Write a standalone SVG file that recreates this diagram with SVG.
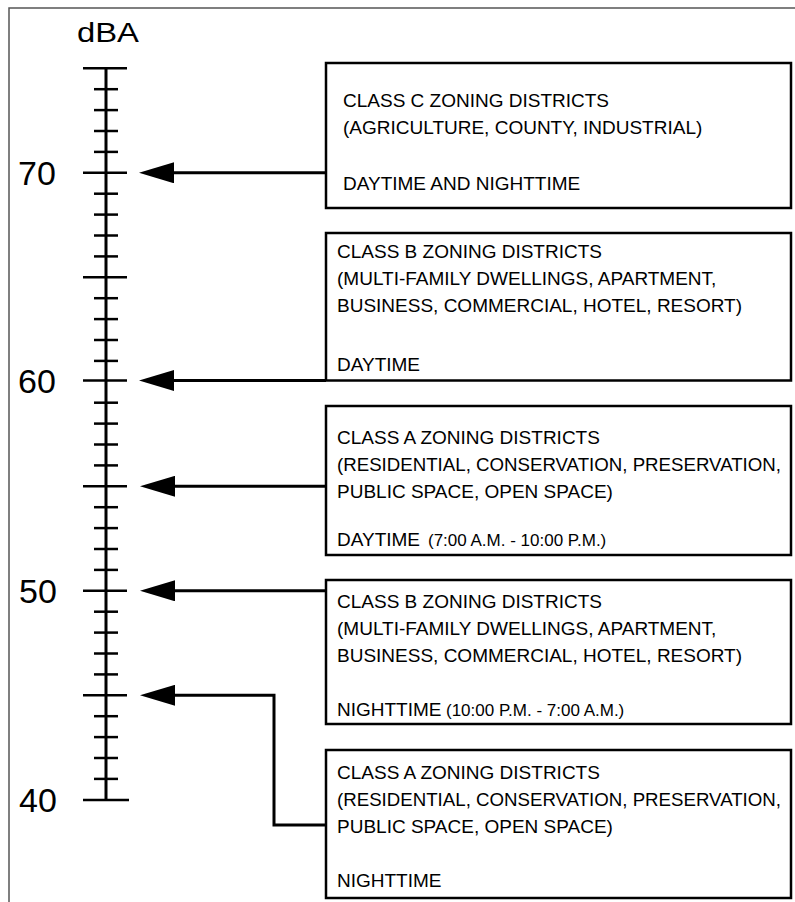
<svg xmlns="http://www.w3.org/2000/svg" width="795" height="902" viewBox="0 0 795 902">
<style>
.frame{fill:none;stroke:#555;stroke-width:1.5}
.axis{stroke:#000;stroke-width:3;fill:none}
.minor{stroke:#000;stroke-width:2.5}
.major{stroke:#000;stroke-width:2.5}
.box{fill:#fff;stroke:#000;stroke-width:2.5}
.conn{fill:none;stroke:#000;stroke-width:3}
.t{font-family:"Liberation Sans",Arial,sans-serif;font-size:19px;fill:#000}
.ts{font-family:"Liberation Sans",Arial,sans-serif;font-size:17px;fill:#000}
.num{font-family:"Liberation Sans",Arial,sans-serif;font-size:34px;fill:#000}
.unit{font-family:"Liberation Sans",Arial,sans-serif;font-size:27px;fill:#000}
</style>
<defs>
<marker id="ah" viewBox="0 0 35 21" refX="9" refY="10.5" markerWidth="35" markerHeight="21" markerUnits="userSpaceOnUse" orient="auto">
<polygon points="0,0 35,10.5 0,21" fill="#000"/>
</marker>
</defs>
<rect width="795" height="902" fill="#fff"/>
<path class="frame" d="M9,902 V8 H795"/>
<g id="scale">
<text class="unit" x="108" y="42" text-anchor="middle" textLength="62" lengthAdjust="spacingAndGlyphs">dBA</text>
<line class="axis" x1="106" y1="68" x2="106" y2="800"/>
<g class="ticks">
<line class="major" x1="83" y1="68.3" x2="127" y2="68.3"/>
<line class="minor" x1="94" y1="89.2" x2="118" y2="89.2"/>
<line class="minor" x1="94" y1="110.1" x2="118" y2="110.1"/>
<line class="minor" x1="94" y1="131.0" x2="118" y2="131.0"/>
<line class="minor" x1="94" y1="151.9" x2="118" y2="151.9"/>
<line class="major" x1="83" y1="172.8" x2="127" y2="172.8"/>
<line class="minor" x1="94" y1="193.7" x2="118" y2="193.7"/>
<line class="minor" x1="94" y1="214.6" x2="118" y2="214.6"/>
<line class="minor" x1="94" y1="235.5" x2="118" y2="235.5"/>
<line class="minor" x1="94" y1="256.4" x2="118" y2="256.4"/>
<line class="major" x1="83" y1="277.3" x2="127" y2="277.3"/>
<line class="minor" x1="94" y1="298.2" x2="118" y2="298.2"/>
<line class="minor" x1="94" y1="319.1" x2="118" y2="319.1"/>
<line class="minor" x1="94" y1="340.0" x2="118" y2="340.0"/>
<line class="minor" x1="94" y1="360.9" x2="118" y2="360.9"/>
<line class="major" x1="83" y1="380.5" x2="127" y2="380.5"/>
<line class="minor" x1="94" y1="402.7" x2="118" y2="402.7"/>
<line class="minor" x1="94" y1="423.6" x2="118" y2="423.6"/>
<line class="minor" x1="94" y1="444.5" x2="118" y2="444.5"/>
<line class="minor" x1="94" y1="465.4" x2="118" y2="465.4"/>
<line class="major" x1="83" y1="486.3" x2="127" y2="486.3"/>
<line class="minor" x1="94" y1="507.2" x2="118" y2="507.2"/>
<line class="minor" x1="94" y1="528.1" x2="118" y2="528.1"/>
<line class="minor" x1="94" y1="549.0" x2="118" y2="549.0"/>
<line class="minor" x1="94" y1="569.9" x2="118" y2="569.9"/>
<line class="major" x1="83" y1="590.8" x2="127" y2="590.8"/>
<line class="minor" x1="94" y1="611.7" x2="118" y2="611.7"/>
<line class="minor" x1="94" y1="632.6" x2="118" y2="632.6"/>
<line class="minor" x1="94" y1="653.5" x2="118" y2="653.5"/>
<line class="minor" x1="94" y1="674.4" x2="118" y2="674.4"/>
<line class="major" x1="83" y1="695.3" x2="127" y2="695.3"/>
<line class="minor" x1="94" y1="716.2" x2="118" y2="716.2"/>
<line class="minor" x1="94" y1="737.1" x2="118" y2="737.1"/>
<line class="minor" x1="94" y1="758.0" x2="118" y2="758.0"/>
<line class="minor" x1="94" y1="778.9" x2="118" y2="778.9"/>
<line class="major" x1="83" y1="800" x2="129" y2="800"/>
</g>
<text class="num" x="18" y="185">70</text>
<text class="num" x="18" y="393">60</text>
<text class="num" x="19" y="603">50</text>
<text class="num" x="19" y="812">40</text>
</g>
<g id="connectors">
<path class="conn" d="M326,172.8 H165" marker-end="url(#ah)"/>
<path class="conn" d="M326,380.5 H165" marker-end="url(#ah)"/>
<path class="conn" d="M326,486.3 H166" marker-end="url(#ah)"/>
<path class="conn" d="M326,590.8 H166" marker-end="url(#ah)"/>
<path class="conn" d="M326,825 H274 V695.3 H166" marker-end="url(#ah)"/>
</g>
<g id="box-c">
<rect class="box" x="326" y="63" width="465" height="145"/>
<text class="t" x="343" y="107">CLASS C ZONING DISTRICTS</text>
<text class="t" x="343" y="134">(AGRICULTURE, COUNTY, INDUSTRIAL)</text>
<text class="t" x="343" y="190">DAYTIME AND NIGHTTIME</text>
</g>
<g id="box-b-day">
<rect class="box" x="326" y="233" width="465" height="147.5"/>
<text class="t" x="337" y="258">CLASS B ZONING DISTRICTS</text>
<text class="t" x="337" y="285">(MULTI-FAMILY DWELLINGS, APARTMENT,</text>
<text class="t" x="337" y="312">BUSINESS, COMMERCIAL, HOTEL, RESORT)</text>
<text class="t" x="337" y="371">DAYTIME</text>
</g>
<g id="box-a-day">
<rect class="box" x="326" y="406" width="465" height="149"/>
<text class="t" x="337" y="444">CLASS A ZONING DISTRICTS</text>
<text class="t" x="337" y="471" textLength="444" lengthAdjust="spacingAndGlyphs">(RESIDENTIAL, CONSERVATION, PRESERVATION,</text>
<text class="t" x="337" y="498">PUBLIC SPACE, OPEN SPACE)</text>
<text class="t" x="337" y="546">DAYTIME</text>
<text class="ts" x="428" y="546">(7:00 A.M. - 10:00 P.M.)</text>
</g>
<g id="box-b-night">
<rect class="box" x="326" y="580" width="465" height="144"/>
<text class="t" x="337" y="608">CLASS B ZONING DISTRICTS</text>
<text class="t" x="337" y="635">(MULTI-FAMILY DWELLINGS, APARTMENT,</text>
<text class="t" x="337" y="662">BUSINESS, COMMERCIAL, HOTEL, RESORT)</text>
<text class="t" x="337" y="716">NIGHTTIME</text>
<text class="ts" x="446" y="716">(10:00 P.M. - 7:00 A.M.)</text>
</g>
<g id="box-a-night">
<rect class="box" x="326" y="750" width="465" height="148"/>
<text class="t" x="337" y="779">CLASS A ZONING DISTRICTS</text>
<text class="t" x="337" y="806" textLength="444" lengthAdjust="spacingAndGlyphs">(RESIDENTIAL, CONSERVATION, PRESERVATION,</text>
<text class="t" x="337" y="833">PUBLIC SPACE, OPEN SPACE)</text>
<text class="t" x="337" y="887">NIGHTTIME</text>
</g>
</svg>
